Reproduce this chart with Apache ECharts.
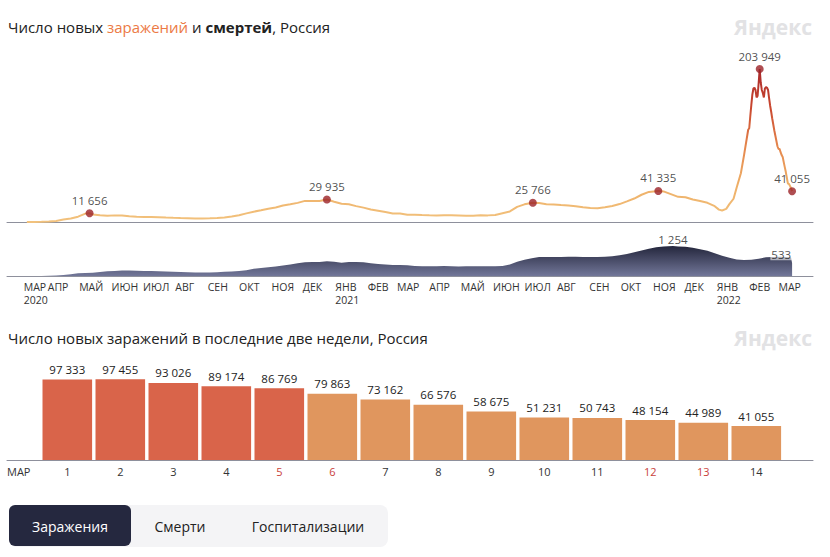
<!DOCTYPE html>
<html><head><meta charset="utf-8">
<script src="https://cdn.jsdelivr.net/npm/echarts@6/dist/echarts.min.js"></script>
<style>html,body{margin:0;padding:0;background:#fff}#c{width:830px;height:557px}</style>
</head><body><div id="c"></div>
<script>
// ---------- DATA ----------
const caseDates = [
'2020-03-12','2020-03-19','2020-03-26','2020-04-02','2020-04-09','2020-04-16','2020-04-23','2020-04-30',
'2020-05-07','2020-05-11','2020-05-14','2020-05-21','2020-05-28','2020-06-04','2020-06-11','2020-06-18','2020-06-25',
'2020-07-02','2020-07-09','2020-07-16','2020-07-23','2020-07-30','2020-08-06','2020-08-13','2020-08-20','2020-08-27',
'2020-09-03','2020-09-10','2020-09-17','2020-09-24','2020-10-01','2020-10-08','2020-10-15','2020-10-22','2020-10-29',
'2020-11-05','2020-11-12','2020-11-19','2020-11-26','2020-12-03','2020-12-10','2020-12-17','2020-12-24','2020-12-31',
'2021-01-07','2021-01-14','2021-01-21','2021-01-28','2021-02-04','2021-02-11','2021-02-18','2021-02-25',
'2021-03-04','2021-03-11','2021-03-18','2021-03-25','2021-04-01','2021-04-08','2021-04-15','2021-04-22','2021-04-29',
'2021-05-06','2021-05-13','2021-05-20','2021-05-27','2021-06-03','2021-06-10','2021-06-17','2021-06-24',
'2021-07-01','2021-07-09','2021-07-15','2021-07-22','2021-07-29','2021-08-05','2021-08-12','2021-08-19','2021-08-26',
'2021-09-02','2021-09-09','2021-09-16','2021-09-23','2021-09-30','2021-10-07','2021-10-14','2021-10-21','2021-10-28',
'2021-11-06','2021-11-11','2021-11-18','2021-11-25','2021-12-02','2021-12-09','2021-12-16','2021-12-23','2021-12-30',
'2022-01-03','2022-01-06','2022-01-10','2022-01-13','2022-01-17','2022-01-20','2022-01-24','2022-01-27','2022-01-31',
'2022-02-01','2022-02-02','2022-02-03','2022-02-04','2022-02-05','2022-02-06','2022-02-07','2022-02-08','2022-02-09',
'2022-02-10','2022-02-11','2022-02-12','2022-02-13','2022-02-14','2022-02-15','2022-02-16','2022-02-17','2022-02-18',
'2022-02-19','2022-02-20','2022-02-21','2022-02-22','2022-02-23','2022-02-24','2022-02-25','2022-02-26','2022-02-27',
'2022-02-28','2022-03-01','2022-03-02','2022-03-03','2022-03-04','2022-03-05','2022-03-06','2022-03-07','2022-03-08',
'2022-03-09','2022-03-10','2022-03-11','2022-03-12','2022-03-13','2022-03-14'
];
const caseValues = [
10,50,180,770,1460,3450,4770,7100,
11230,11656,9970,8850,8370,8830,8780,7790,7110,
6760,6630,6430,5860,5510,5240,5060,4770,4680,
5000,5360,5900,7210,8950,11490,13750,15700,17720,
19400,21980,23610,25490,28150,27930,27920,29935,27030,
24250,23540,21150,19140,16710,15090,13230,11200,
11360,9750,9630,9170,8910,8760,9160,9000,8730,
8330,8220,8950,8830,9260,11700,14060,20180,
23540,25766,25290,23810,23270,22590,21930,21060,19630,
18780,18340,19590,21380,23890,27550,31300,36340,40100,
41335,40760,37160,33560,32930,29930,27970,25570,21070,
16500,15400,17500,23800,31000,46000,65000,88800,123000,
125000,141000,156000,170000,178000,179000,176000,166000,168000,
185000,203949,186000,176000,172000,166000,178000,180000,179000,
176000,165000,155000,147000,138000,130000,122000,115000,108000,
101000,97333,97455,93026,89174,86769,79863,73162,66576,
58675,51231,50743,48154,44989,41055
];
const deathDates = [
'2020-03-12','2020-03-19','2020-03-26','2020-04-02','2020-04-09','2020-04-16','2020-04-23','2020-04-30',
'2020-05-07','2020-05-14','2020-05-21','2020-05-28','2020-06-04','2020-06-11','2020-06-18','2020-06-25',
'2020-07-02','2020-07-09','2020-07-16','2020-07-23','2020-07-30','2020-08-06','2020-08-13','2020-08-20','2020-08-27',
'2020-09-03','2020-09-10','2020-09-17','2020-09-24','2020-10-01','2020-10-08','2020-10-15','2020-10-22','2020-10-29',
'2020-11-05','2020-11-12','2020-11-19','2020-11-26','2020-12-03','2020-12-10','2020-12-17','2020-12-24','2020-12-31',
'2021-01-07','2021-01-14','2021-01-21','2021-01-28','2021-02-04','2021-02-11','2021-02-18','2021-02-25',
'2021-03-04','2021-03-11','2021-03-18','2021-03-25','2021-04-01','2021-04-08','2021-04-15','2021-04-22','2021-04-29',
'2021-05-06','2021-05-13','2021-05-20','2021-05-27','2021-06-03','2021-06-10','2021-06-17','2021-06-24',
'2021-07-01','2021-07-08','2021-07-15','2021-07-22','2021-07-29','2021-08-05','2021-08-12','2021-08-19','2021-08-26',
'2021-09-02','2021-09-09','2021-09-16','2021-09-23','2021-09-30','2021-10-07','2021-10-14','2021-10-21','2021-10-28',
'2021-11-04','2021-11-11','2021-11-20','2021-11-25','2021-12-02','2021-12-09','2021-12-16','2021-12-23','2021-12-30',
'2022-01-06','2022-01-13','2022-01-20','2022-01-27','2022-02-03','2022-02-10','2022-02-17','2022-02-24',
'2022-03-03','2022-03-10','2022-03-13','2022-03-14'
];
const deathValues = [
0,2,5,12,25,45,70,110,
125,140,165,200,210,225,225,215,
210,205,200,190,180,165,155,150,150,
150,160,175,190,210,245,300,330,370,
400,440,480,530,570,580,590,620,600,
550,580,590,570,530,500,480,460,
460,450,420,410,405,410,415,405,400,
405,405,405,405,410,420,480,600,
680,740,790,790,790,790,800,800,790,
790,790,800,830,870,920,990,1070,1140,
1200,1230,1254,1235,1220,1180,1120,1060,950,
850,760,690,670,680,720,780,790,
800,780,770,533
];
const markedDates = ['2020-05-11','2020-12-24','2021-07-09','2021-11-06','2022-02-11','2022-03-14'];
const monthNames = ['ЯНВ','ФЕВ','МАР','АПР','МАЙ','ИЮН','ИЮЛ','АВГ','СЕН','ОКТ','НОЯ','ДЕК'];
const barMonthLabel = 'МАР';
const barYear = 2022, barMonth = 2;
const barDays = ['1','2','3','4','5','6','7','8','9','10','11','12','13','14'];
const barValues = [97333,97455,93026,89174,86769,79863,73162,66576,58675,51231,50743,48154,44989,41055];
const buttons = ['Заражения','Смерти','Госпитализации'];

// ---------- HELPERS ----------
const FONT = '"Open Sans", "Noto Sans", sans-serif';
const DAY = 864e5;
const ts = s => { const p = s.split('-'); return new Date(+p[0], +p[1]-1, +p[2]).getTime(); };
const fmt = v => String(v).replace(/\B(?=(\d{3})+(?!\d))/g, ' ');
const axisMin = ts('2020-02-22'), axisMax = ts('2022-04-03');
const dataStart = ts(caseDates[0]);
const monthTicks = [dataStart - 3 * DAY];
for (let y = 2020, m = 3; y < 2022 || (y === 2022 && m <= 2); ) {
  monthTicks.push(new Date(y, m, 1).getTime());
  m++; if (m > 11) { m = 0; y++; }
}
const caseData = caseDates.map((d,i)=>[ts(d), caseValues[i]]);
const deathData = deathDates.map((d,i)=>[ts(d), deathValues[i]]);
const maxCase = Math.max(...caseValues);
const maxDeath = Math.max(...deathValues);
const maxBar = Math.max(...barValues);
const markData = markedDates.map(d => [ts(d), caseValues[caseDates.indexOf(d)]]);
const peakDeathIdx = deathValues.indexOf(maxDeath);
const lastDeathIdx = deathValues.length - 1;
const isWeekend = day => { const w = new Date(barYear, barMonth, +day).getDay(); return w === 0 || w === 6; };
const AXIS_COLOR = '#8e909c';

const chart = echarts.init(document.getElementById('c'), null, {renderer:'svg', width:830, height:557});
chart.setOption({
  animation: false,
  backgroundColor: '#fff',
  textStyle: { fontFamily: FONT },
  title: [
    { left: 8, top: 17, padding: 0,
      text: '{a|Число новых }{o|заражений}{a| и }{b|смертей}{a|, Россия}',
      textStyle: { fontWeight: 'normal', fontSize: 15, rich: {
        a: { fontSize: 15, color: '#222', fontWeight: 'normal', fontFamily: FONT, lineHeight: 20 },
        o: { fontSize: 15, color: '#ec7a45', fontWeight: 'normal', fontFamily: FONT, lineHeight: 20 },
        b: { fontSize: 15, color: '#222', fontWeight: 'bold', fontFamily: FONT, lineHeight: 20 }
      } } },
    { left: 8, top: 328, padding: 0,
      text: 'Число новых заражений в последние две недели, Россия',
      textStyle: { fontSize: 15, color: '#222', fontWeight: 'normal', fontFamily: FONT, lineHeight: 20 } }
  ],
  grid: [
    { left: 7, width: 806, top: 69, height: 153 },
    { left: 7, width: 806, top: 246, height: 30 },
    { left: 40.8, width: 742, top: 379.3, height: 80.7 },
    { left: 7, width: 806, top: 379.3, height: 80.7 }
  ],
  xAxis: [
    { type: 'value', gridIndex: 0, min: axisMin, max: axisMax,
      axisLine: { lineStyle: { color: AXIS_COLOR, width: 1 } }, axisTick: { show: false },
      axisLabel: { show: false }, splitLine: { show: false } },
    { type: 'value', gridIndex: 1, min: axisMin, max: axisMax,
      axisLine: { lineStyle: { color: AXIS_COLOR, width: 1 } }, axisTick: { show: false },
      splitLine: { show: false },
      axisLabel: { customValues: monthTicks, hideOverlap: false, showMinLabel: true, showMaxLabel: true,
        align: 'left', margin: 4,
        fontSize: 10.5, lineHeight: 13.5, color: '#333', fontFamily: FONT,
        formatter: (v) => { const first = v < monthTicks[1];
          const d = new Date(first ? dataStart : v); const name = monthNames[d.getMonth()];
          return (first || d.getMonth() === 0) ? name + '\n' + d.getFullYear() : name; } } },
    { type: 'category', gridIndex: 2, data: barDays.map(d => ({ value: d,
        textStyle: { color: isWeekend(d) ? '#c9413a' : '#333' } })),
      axisLine: { show: false }, axisTick: { show: false },
      axisLabel: { fontSize: 11, margin: 6, fontFamily: FONT } },
    { type: 'value', gridIndex: 3, min: 0, max: 1,
      axisLine: { show: true, lineStyle: { color: AXIS_COLOR, width: 1 } }, axisTick: { show: false },
      splitLine: { show: false },
      axisLabel: { customValues: [0], showMinLabel: true, formatter: () => barMonthLabel, align: 'left', margin: 6,
        fontSize: 11, color: '#333', fontFamily: FONT } }
  ],
  yAxis: [
    { type: 'value', gridIndex: 0, min: 0, max: maxCase, show: false },
    { type: 'value', gridIndex: 1, min: 0, max: maxDeath, show: false },
    { type: 'value', gridIndex: 2, min: 0, max: maxBar, show: false },
    { type: 'value', gridIndex: 3, min: 0, max: 1, show: false }
  ],
  visualMap: { show: false, type: 'continuous', seriesIndex: 0, dimension: 1, min: 0, max: maxCase,
    inRange: { color: ['#f2c27d', '#eeae66', '#e4854c', '#c9472f', '#a9292b'] } },
  series: [
    { type: 'line', xAxisIndex: 0, yAxisIndex: 0, data: caseData, showSymbol: false,
      lineStyle: { width: 2 }, z: 3 },
    { type: 'scatter', xAxisIndex: 0, yAxisIndex: 0, data: markData, symbolSize: 8,
      itemStyle: { color: '#9b2227' }, z: 4,
      label: { show: true, position: 'top', distance: 3, fontSize: 11.5, color: '#222', fontFamily: FONT,
        formatter: p => fmt(p.value[1]) } },
    { type: 'line', xAxisIndex: 1, yAxisIndex: 1, data: deathData, showSymbol: false,
      lineStyle: { width: 0 },
      areaStyle: { opacity: 1, color: new echarts.graphic.LinearGradient(0, 0, 0, 1, [
        { offset: 0, color: '#24263c' }, { offset: 1, color: '#727799' }]) } },
    { type: 'scatter', xAxisIndex: 1, yAxisIndex: 1, symbolSize: 0, z: 5,
      data: [
        { value: deathData[peakDeathIdx], label: { position: 'top', distance: 1 } },
        { value: deathData[lastDeathIdx], label: { position: 'top', align: 'right', distance: 3,
            backgroundColor: 'rgba(255,255,255,0.72)', padding: [0, 1] } }
      ],
      label: { show: true, fontSize: 11.5, color: '#222', fontFamily: FONT,
        formatter: p => fmt(p.value[1]) } },
    { type: 'bar', xAxisIndex: 2, yAxisIndex: 2, barWidth: 49.6,
      data: barValues.map(v => ({ value: v, itemStyle: { color: v > 80000 ? '#d9644a' : '#e0965e' } })),
      label: { show: true, position: 'top', distance: 4, fontSize: 11.5, color: '#222', fontFamily: FONT,
        formatter: p => fmt(p.value) } }
  ],
  graphic: [
    { type: 'text', x: 812, y: 27, style: { text: 'Яндекс', align: 'right', verticalAlign: 'middle',
        fontSize: 21, fontWeight: 'bold', fontFamily: FONT, fill: '#e2e2e4' } },
    { type: 'text', x: 812, y: 338, style: { text: 'Яндекс', align: 'right', verticalAlign: 'middle',
        fontSize: 21, fontWeight: 'bold', fontFamily: FONT, fill: '#e2e2e4' } },
    { type: 'rect', shape: { x: 9, y: 505, width: 379, height: 42, r: 8 }, style: { fill: '#f4f4f6' } },
    { type: 'rect', shape: { x: 9, y: 505, width: 122, height: 41, r: 6 }, style: { fill: '#25283f' } },
    { type: 'text', x: 70, y: 526, style: { text: buttons[0], align: 'center', verticalAlign: 'middle',
        fontSize: 14, fontWeight: 500, fontFamily: FONT, fill: '#fff' } },
    { type: 'text', x: 180, y: 526, style: { text: buttons[1], align: 'center', verticalAlign: 'middle',
        fontSize: 14, fontWeight: 500, fontFamily: FONT, fill: '#222' } },
    { type: 'text', x: 308, y: 526, style: { text: buttons[2], align: 'center', verticalAlign: 'middle',
        fontSize: 14, fontWeight: 500, fontFamily: FONT, fill: '#222' } }
  ]
});
</script></body></html>
